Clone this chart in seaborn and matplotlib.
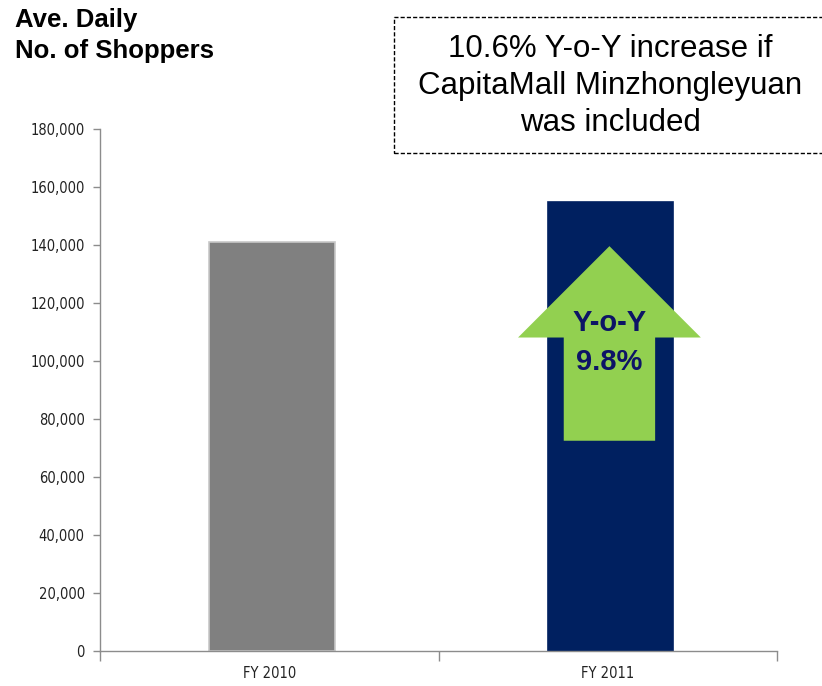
import matplotlib
matplotlib.use("Agg")
import matplotlib.pyplot as plt
from matplotlib.patches import Rectangle, FancyArrow
import seaborn as sns
import pandas as pd

# Average daily shopper counts per financial year
years = ["FY 2010", "FY 2011"]
shoppers = [141000, 154800]
bar_colors = ["#808080", "#002060"]
y_ticks = list(range(0, 180001, 20000))

sns.set_theme(style="white")
plt.rcParams["font.family"] = ["Liberation Sans", "DejaVu Sans"]

df = pd.DataFrame({"year": years, "shoppers": shoppers})

fig = plt.figure(figsize=(8.22, 6.86), dpi=100)
ax = fig.add_axes([100 / 822, 35 / 686, 677 / 822, 522 / 686])

sns.barplot(data=df, x="year", y="shoppers", hue="year", palette=bar_colors,
            width=0.37, legend=False, ax=ax, saturation=1)
for p, c in zip(ax.patches, ["#c8c8c8", "#002060"]):
    p.set_edgecolor(c)
    p.set_linewidth(1.2)
    p.set_x(p.get_x() + 0.008)

ax.set_ylim(0, 180000)
ax.set_xlim(-0.5, 1.5)
ax.set_yticks(y_ticks)
ax.set_yticklabels([f"{t:,}" for t in y_ticks])
ax.set_xlabel("")
ax.set_ylabel("")

for lab in ax.get_yticklabels() + ax.get_xticklabels():
    lab.set_family("DejaVu Sans")
    lab.set_stretch("condensed")
    lab.set_fontsize(10.5)
    lab.set_color("#222222")

for side in ["top", "right"]:
    ax.spines[side].set_visible(False)
for side in ["left", "bottom"]:
    ax.spines[side].set_color("#8c8c8c")
    ax.spines[side].set_linewidth(1.0)

ax.tick_params(axis="y", which="major", left=True, length=5, width=1,
               color="#8c8c8c", pad=6)
ax.set_xticks([-0.5, 0.5, 1.5], minor=True)
ax.tick_params(axis="x", which="minor", bottom=True, length=7, width=1,
               color="#8c8c8c")
ax.tick_params(axis="x", which="major", bottom=False, length=0, pad=11)

# Growth arrow on the FY 2011 bar
growth = (shoppers[1] / shoppers[0] - 1) * 100
base, tip, head_base = 72500, 139600, 108100
ax.add_patch(FancyArrow(1.005, base, 0, tip - base, width=0.27, head_width=0.54,
                        head_length=tip - head_base, length_includes_head=True,
                        facecolor="#92D050", edgecolor="none", zorder=3))
ax.text(1.005, 113000, "Y-o-Y", ha="center", va="center", fontsize=21,
        fontweight="bold", color="#0d1466", zorder=4)
ax.text(1.005, 99800, f"{growth:.1f}%", ha="center", va="center", fontsize=21,
        fontweight="bold", color="#0d1466", zorder=4)

# Title
fig.text(15 / 822, 1 - 8 / 686, "Ave. Daily\nNo. of Shoppers", ha="left",
         va="top", fontsize=18.5, fontweight="bold", color="black",
         linespacing=1.35)

# Dashed callout box
fig.patches.append(Rectangle((394 / 822, 1 - 153 / 686), 0.6, 136 / 686,
                             transform=fig.transFigure, fill=False,
                             edgecolor="black", linestyle=(0, (3, 1.5)),
                             linewidth=1.0))
fig.text(610 / 822, 1 - 86 / 686,
         "10.6% Y-o-Y increase if\nCapitaMall Minzhongleyuan\nwas included",
         ha="center", va="center", fontsize=22.5, color="black",
         linespacing=1.3)

fig.savefig("out.png", dpi=100)
